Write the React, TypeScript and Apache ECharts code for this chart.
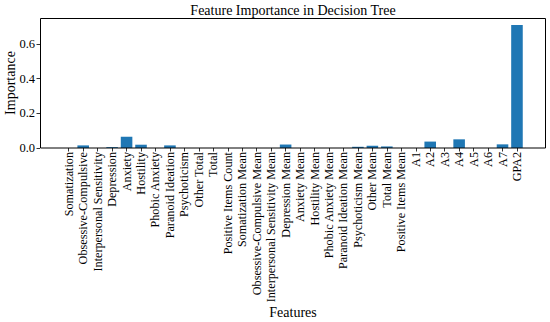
import React, { useEffect, useRef } from "react";
import * as echarts from "echarts";

const categories = [
  "Somatization", "Obsessive-Compulsive", "Interpersonal Sensitivity", "Depression",
  "Anxiety", "Hostility", "Phobic Anxiety", "Paranoid Ideation", "Psychoticism",
  "Other Total", "Total", "Positive Items Count", "Somatization Mean",
  "Obsessive-Compulsive Mean", "Interpersonal Sensitivity Mean", "Depression Mean",
  "Anxiety Mean", "Hostility Mean", "Phobic Anxiety Mean", "Paranoid Ideation Mean",
  "Psychoticism Mean", "Other Mean", "Total Mean", "Positive Items Mean",
  "A1", "A2", "A3", "A4", "A5", "A6", "A7", "GPA2",
];

const importance = [
  0, 0.015, 0, 0.005, 0.065, 0.019, 0, 0.015, 0,
  0, 0, 0, 0, 0, 0, 0.02,
  0, 0, 0, 0, 0.007, 0.013, 0.009, 0,
  0, 0.037, 0, 0.05, 0, 0, 0.021, 0.71,
];

const yTicks = [0, 0.2, 0.4, 0.6];

const FONT = "'Liberation Serif', 'Times New Roman', serif";

export default function App() {
  const ref = useRef<HTMLDivElement>(null);
  useEffect(() => {
    const chart = echarts.init(ref.current!, null, { renderer: "svg" });
    chart.setOption({
      animation: false,
      backgroundColor: "#fff",
      textStyle: { fontFamily: FONT },
      grid: { left: 61.5, right: 25.8, top: 18, bottom: 174, containLabel: false },
      xAxis: {
        type: "category",
        data: categories,
        boundaryGap: true,
        axisLine: { show: false },
        axisTick: { show: true, alignWithLabel: true, length: 3.5, lineStyle: { color: "#000", width: 0.8 } },
        axisLabel: {
          rotate: 90,
          interval: 0,
          margin: 4,
          fontFamily: FONT,
          fontSize: 12.2,
          color: "#000",
        },
        splitLine: { show: false },
      },
      yAxis: {
        type: "value",
        min: 0,
        max: 0.75,
        offset: 21.5,
        position: "left",
        axisLine: { show: false },
        axisTick: { show: true, length: 3.5, customValues: yTicks, lineStyle: { color: "#000", width: 0.8 } },
        axisLabel: {
          customValues: yTicks,
          margin: 5,
          fontFamily: FONT,
          fontSize: 12.5,
          color: "#000",
          formatter: (v: number) => v.toFixed(1),
        },
        splitLine: { show: false },
      },
      series: [
        {
          type: "bar",
          data: importance,
          barWidth: "80%",
          itemStyle: { color: "#1f77b4" },
        },
      ],
      graphic: [
        {
          type: "rect",
          shape: { x: 40.5, y: 18.5, width: 505, height: 129.5 },
          style: { fill: "none", stroke: "#000", lineWidth: 1 },
          z: 100,
        },
        {
          type: "text",
          x: 293,
          y: 10,
          style: {
            text: "Feature Importance in Decision Tree",
            fontFamily: FONT,
            fontSize: 14,
            fill: "#000",
            align: "center",
            verticalAlign: "middle",
          },
        },
        {
          type: "text",
          x: 10,
          y: 83,
          rotation: Math.PI / 2,
          style: {
            text: "Importance",
            fontFamily: FONT,
            fontSize: 14,
            fill: "#000",
            align: "center",
            verticalAlign: "middle",
          },
        },
        {
          type: "text",
          x: 293,
          y: 312,
          style: {
            text: "Features",
            fontFamily: FONT,
            fontSize: 14,
            fill: "#000",
            align: "center",
            verticalAlign: "middle",
          },
        },
      ],
    });
    return () => chart.dispose();
  }, []);
  return (
    <div
      ref={ref}
      style={{ position: "fixed", left: 0, top: 0, width: 550, height: 322 }}
    />
  );
}
